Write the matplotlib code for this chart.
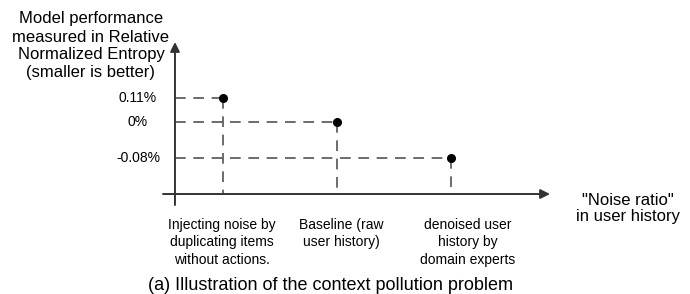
import numpy as np
import matplotlib
matplotlib.use("Agg")
import matplotlib.pyplot as plt

plt.rcParams["font.family"] = ["Liberation Sans", "DejaVu Sans"]

# data
categories = [
    "Injecting noise by\nduplicating items\nwithout actions.",
    "Baseline (raw\nuser history)",
    "denoised user\nhistory by\ndomain experts",
]
rne_values = [0.11, 0.0, -0.08]
tick_labels = ["0.11%", "0%", "-0.08%"]

y_title = "Model performance\nmeasured in Relative\nNormalized Entropy\n(smaller is better)"
x_title = '"Noise ratio"\nin user history'
caption = "(a) Illustration of the context pollution problem"

# the sketch is not drawn to a linear y scale; piecewise-linear scale matches it
_kv = np.array([-1.0, -0.08, 0.0, 0.11, 1.0])
_kp = np.array([-572.0, -158.0, -122.0, -98.0, 96.2])


def _fwd(v):
    return np.interp(v, _kv, _kp)


def _inv(p):
    return np.interp(p, _kp, _kv)


W, H = 690, 294
fig = plt.figure(figsize=(W / 100, H / 100), dpi=100)
ax = fig.add_axes([163 / W, (H - 205) / H, 387 / W, 163 / H])
ax.set_yscale("function", functions=(_fwd, _inv))
ax.set_xlim(-0.526, 2.868)
ax.set_ylim(-0.1844, 0.3667)
ax.axis("off")

origin_x, origin_y = -0.421, -0.16
dash = dict(color="#444444", lw=1.1, dashes=(7, 5), solid_capstyle="butt")
xs = np.arange(len(rne_values))

for i, v in zip(xs, rne_values):
    ax.plot([origin_x, i], [v, v], **dash)
    ax.plot([i, i], [v, origin_y], **dash)

# axes with arrow heads
arrow = dict(arrowstyle="-|>", color="#333333", lw=1.4, mutation_scale=14,
             shrinkA=0, shrinkB=0)
ax.annotate("", xy=(2.868, origin_y), xytext=(-0.526, origin_y), arrowprops=arrow,
            annotation_clip=False)
ax.annotate("", xy=(origin_x, 0.3667), xytext=(origin_x, -0.1844), arrowprops=arrow,
            annotation_clip=False)

ax.plot(xs, rne_values, "o", color="black", ms=5.5, zorder=5)

for v, lab in zip(rne_values, tick_labels):
    ax.annotate(lab, xy=(origin_x, v), xytext=(-37, 0), textcoords="offset pixels",
                ha="center", va="center", fontsize=10, annotation_clip=False)

label_dx = [-1, 4, 17]
for i, lab in enumerate(categories):
    ax.annotate(lab, xy=(i, origin_y), xytext=(label_dx[i], -24), textcoords="offset pixels",
                ha="center", va="top", fontsize=10, linespacing=1.3, annotation_clip=False)

fig.text(91 / W, 1 - 46 / H, y_title, ha="center", va="center", fontsize=12,
         linespacing=1.25)
fig.text(628 / W, 1 - 208.5 / H, x_title, ha="center", va="center", fontsize=12,
         linespacing=1.12)
fig.text(330 / W, 1 - 285 / H, caption, ha="center", va="center", fontsize=13)

fig.savefig("out.png", dpi=100)
